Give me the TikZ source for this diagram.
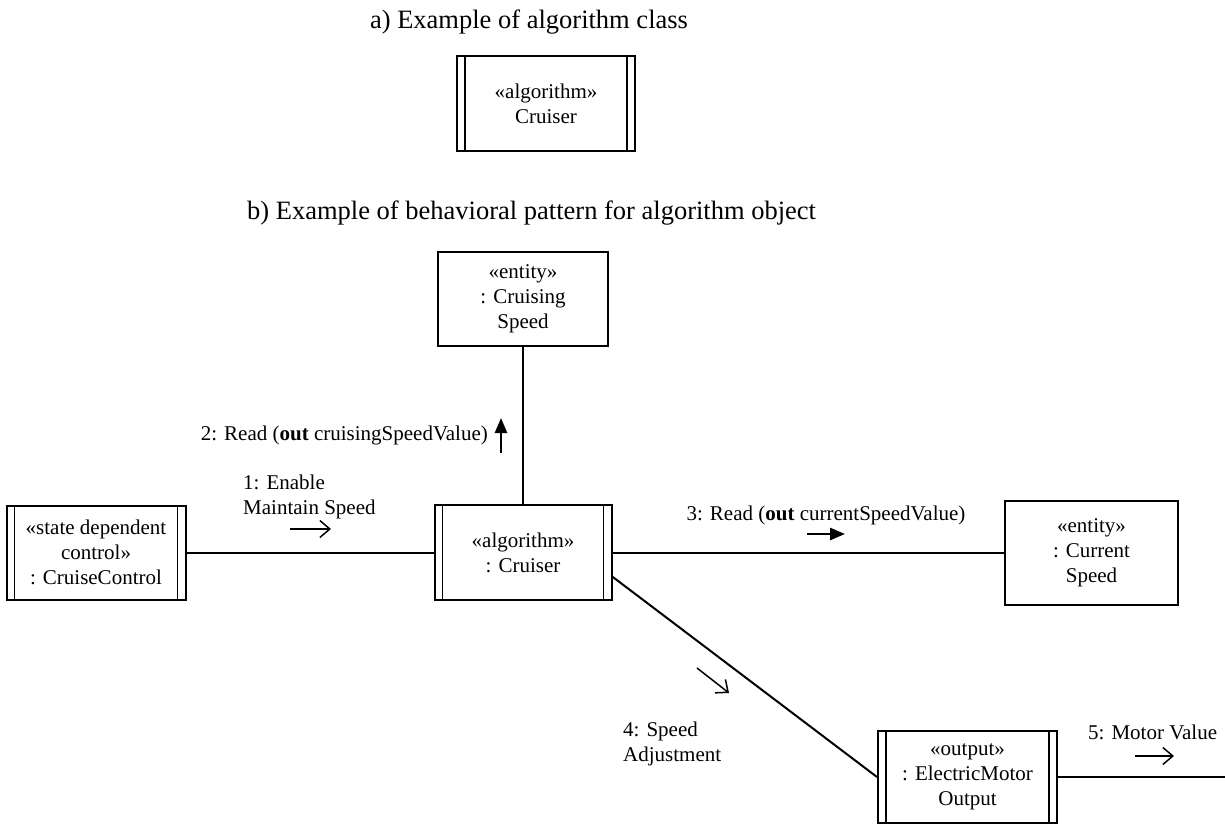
\documentclass[tikz,border=0pt]{standalone}
\usepackage{fontspec}
\setmainfont{Liberation Serif}
\usetikzlibrary{arrows.meta,calc}
\begin{document}
\begin{tikzpicture}[x=1pt,y=-1pt,
  lbl/.style={font=\fontsize{21}{25}\selectfont, inner sep=0pt},
  ttl/.style={font=\fontsize{26.5}{30}\selectfont, inner sep=0pt},
  objbox/.style={draw, line width=2pt, align=center, inner sep=0pt,
    font=\fontsize{21}{25}\selectfont},
  activebox/.style={objbox, path picture={
    \draw[line width=1.8pt]
      ([xshift=8pt]path picture bounding box.north west) --
      ([xshift=8pt]path picture bounding box.south west);
    \draw[line width=1.8pt]
      ([xshift=-8pt]path picture bounding box.north east) --
      ([xshift=-8pt]path picture bounding box.south east);}},
  link/.style={line width=2pt},
  msgopen/.style={line width=1.5pt, -{Straight Barb[length=10pt,width=17pt]}},
  msgfill/.style={line width=2.6pt, -{Triangle[length=15pt,width=12pt]}},
]
\useasboundingbox[fill=white] (0,0) rectangle (1225,824);

% a) class
\node[ttl] (titleA) at (529,22) {a) Example of algorithm class};
\node[activebox, minimum width=178pt, minimum height=95pt] (classbox)
  at (546,103.5) {«algorithm»\\Cruiser};

% b) collaboration
\node[ttl, anchor=west] (titleB) at (247,213)
  {b) Example of behavioral pattern for algorithm object};

\node[objbox, minimum width=170pt, minimum height=94pt] (cruising)
  at (523,299) {«entity»\\: Cruising\\Speed};
\node[activebox, minimum width=177pt, minimum height=95pt] (cruiser)
  at (523,552.5) {«algorithm»\\: Cruiser};
\node[activebox, minimum width=179pt, minimum height=94pt] (cc)
  at (96,552.5) {«state dependent\\control»\\: CruiseControl};
\node[objbox, minimum width=173pt, minimum height=104pt] (current)
  at (1091.5,552.5) {«entity»\\: Current\\Speed};
\node[activebox, minimum width=179pt, minimum height=92pt] (electric)
  at (967.5,777) {«output»\\: ElectricMotor\\Output};
\coordinate (motorout) at (1225,777);

\draw[link] (cruising.south) -- (cruiser.north);
\draw[link] (cc.east) -- (cruiser.west);
\draw[link] (cruiser.east) -- (current.west);
\draw[link] ($(cruiser.north east)!0.75!(cruiser.south east)$) -- (electric.west);
\draw[link] (electric.east) -- (motorout);

% message labels
\node[lbl, anchor=east] (m2) at (488,435) {2: Read (\textbf{out} cruisingSpeedValue)};
\node[lbl, anchor=west, align=left] (m1) at (243,496.5) {1: Enable\\Maintain Speed};
\node[lbl] (m3) at (826,515) {3: Read (\textbf{out} currentSpeedValue)};
\node[lbl, anchor=west, align=left] (m4) at (623,743.5) {4: Speed\\Adjustment};
\node[lbl, anchor=west] (m5) at (1088,732) {5: Motor Value};

% message direction arrows
\coordinate (a2s) at (501,453); \coordinate (a2e) at (501,418);
\coordinate (a1s) at (290,529); \coordinate (a1e) at (331,529);
\coordinate (a3s) at (807,534); \coordinate (a3e) at (845,534);
\coordinate (a4s) at (697,668); \coordinate (a4e) at (729,693);
\coordinate (a5s) at (1135,756); \coordinate (a5e) at (1174,756);
\draw[msgfill] (a2s) -- (a2e);
\draw[msgopen] (a1s) -- (a1e);
\draw[msgfill] (a3s) -- (a3e);
\draw[msgopen] (a4s) -- (a4e);
\draw[msgopen] (a5s) -- (a5e);
\end{tikzpicture}
\end{document}
